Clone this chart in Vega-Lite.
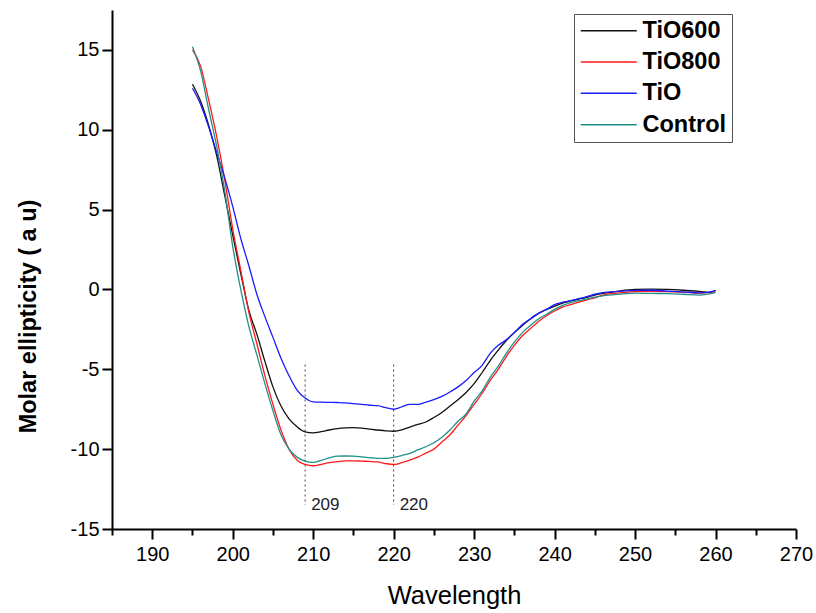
{
  "$schema": "https://vega.github.io/schema/vega-lite/v6.json",
  "width": 684,
  "height": 519,
  "autosize": "none",
  "padding": {"left": 112, "top": 10, "right": 20, "bottom": 84},
  "background": "white",
  "config": {
    "view": {"stroke": null},
    "font": "Liberation Sans",
    "axis": {"grid": false, "domainColor": "#000", "domainWidth": 2, "tickColor": "#000", "tickWidth": 2, "labelColor": "#000", "labelFont": "Liberation Sans", "labelFontSize": 20, "titleColor": "#000", "titleFont": "Liberation Sans"}
  },
  "datasets": {
    "curves": [
      {"w":195,"v":12.85,"s":"TiO600"},{"w":196,"v":11.8,"s":"TiO600"},{"w":197,"v":10.3,"s":"TiO600"},{"w":198,"v":8.4,"s":"TiO600"},{"w":199,"v":5.9,"s":"TiO600"},{"w":200,"v":3.4,"s":"TiO600"},{"w":201,"v":1.0,"s":"TiO600"},{"w":202,"v":-1.3,"s":"TiO600"},{"w":203,"v":-2.8,"s":"TiO600"},{"w":204,"v":-4.5,"s":"TiO600"},{"w":205,"v":-6.1,"s":"TiO600"},{"w":206,"v":-7.3,"s":"TiO600"},{"w":207,"v":-8.1,"s":"TiO600"},{"w":208,"v":-8.6,"s":"TiO600"},{"w":209,"v":-8.92,"s":"TiO600"},{"w":210,"v":-8.98,"s":"TiO600"},{"w":211,"v":-8.9,"s":"TiO600"},{"w":212,"v":-8.8,"s":"TiO600"},{"w":213,"v":-8.72,"s":"TiO600"},{"w":214,"v":-8.67,"s":"TiO600"},{"w":215,"v":-8.65,"s":"TiO600"},{"w":216,"v":-8.68,"s":"TiO600"},{"w":217,"v":-8.75,"s":"TiO600"},{"w":218,"v":-8.8,"s":"TiO600"},{"w":219,"v":-8.85,"s":"TiO600"},{"w":220,"v":-8.88,"s":"TiO600"},{"w":221,"v":-8.8,"s":"TiO600"},{"w":222,"v":-8.62,"s":"TiO600"},{"w":223,"v":-8.45,"s":"TiO600"},{"w":224,"v":-8.3,"s":"TiO600"},{"w":225,"v":-8.02,"s":"TiO600"},{"w":226,"v":-7.7,"s":"TiO600"},{"w":227,"v":-7.3,"s":"TiO600"},{"w":228,"v":-6.9,"s":"TiO600"},{"w":229,"v":-6.45,"s":"TiO600"},{"w":230,"v":-5.9,"s":"TiO600"},{"w":231,"v":-5.2,"s":"TiO600"},{"w":232,"v":-4.45,"s":"TiO600"},{"w":233,"v":-3.8,"s":"TiO600"},{"w":234,"v":-3.2,"s":"TiO600"},{"w":235,"v":-2.7,"s":"TiO600"},{"w":236,"v":-2.25,"s":"TiO600"},{"w":237,"v":-1.85,"s":"TiO600"},{"w":238,"v":-1.5,"s":"TiO600"},{"w":239,"v":-1.25,"s":"TiO600"},{"w":240,"v":-1.05,"s":"TiO600"},{"w":241,"v":-0.85,"s":"TiO600"},{"w":242,"v":-0.72,"s":"TiO600"},{"w":243,"v":-0.6,"s":"TiO600"},{"w":244,"v":-0.5,"s":"TiO600"},{"w":245,"v":-0.35,"s":"TiO600"},{"w":246,"v":-0.25,"s":"TiO600"},{"w":248,"v":-0.1,"s":"TiO600"},{"w":250,"v":0.0,"s":"TiO600"},{"w":252,"v":0.02,"s":"TiO600"},{"w":254,"v":0.0,"s":"TiO600"},{"w":256,"v":-0.05,"s":"TiO600"},{"w":258,"v":-0.12,"s":"TiO600"},{"w":259.5,"v":-0.18,"s":"TiO600"},{"w":260,"v":-0.05,"s":"TiO600"},

      {"w":195,"v":15.0,"s":"TiO800"},{"w":196,"v":14.0,"s":"TiO800"},{"w":197,"v":11.9,"s":"TiO800"},{"w":198,"v":9.6,"s":"TiO800"},{"w":199,"v":6.9,"s":"TiO800"},{"w":200,"v":3.8,"s":"TiO800"},{"w":201,"v":1.2,"s":"TiO800"},{"w":202,"v":-1.4,"s":"TiO800"},{"w":203,"v":-3.4,"s":"TiO800"},{"w":204,"v":-5.4,"s":"TiO800"},{"w":205,"v":-7.2,"s":"TiO800"},{"w":206,"v":-8.8,"s":"TiO800"},{"w":207,"v":-10.0,"s":"TiO800"},{"w":208,"v":-10.7,"s":"TiO800"},{"w":209,"v":-10.96,"s":"TiO800"},{"w":210,"v":-11.04,"s":"TiO800"},{"w":211,"v":-10.95,"s":"TiO800"},{"w":212,"v":-10.85,"s":"TiO800"},{"w":213,"v":-10.78,"s":"TiO800"},{"w":214,"v":-10.73,"s":"TiO800"},{"w":215,"v":-10.73,"s":"TiO800"},{"w":216,"v":-10.75,"s":"TiO800"},{"w":217,"v":-10.77,"s":"TiO800"},{"w":218,"v":-10.8,"s":"TiO800"},{"w":219,"v":-10.9,"s":"TiO800"},{"w":220,"v":-10.96,"s":"TiO800"},{"w":221,"v":-10.85,"s":"TiO800"},{"w":222,"v":-10.69,"s":"TiO800"},{"w":223,"v":-10.5,"s":"TiO800"},{"w":224,"v":-10.25,"s":"TiO800"},{"w":225,"v":-10.0,"s":"TiO800"},{"w":226,"v":-9.55,"s":"TiO800"},{"w":227,"v":-9.1,"s":"TiO800"},{"w":228,"v":-8.5,"s":"TiO800"},{"w":229,"v":-7.9,"s":"TiO800"},{"w":230,"v":-7.2,"s":"TiO800"},{"w":231,"v":-6.5,"s":"TiO800"},{"w":232,"v":-5.7,"s":"TiO800"},{"w":233,"v":-5.0,"s":"TiO800"},{"w":234,"v":-4.2,"s":"TiO800"},{"w":235,"v":-3.5,"s":"TiO800"},{"w":236,"v":-2.9,"s":"TiO800"},{"w":237,"v":-2.45,"s":"TiO800"},{"w":238,"v":-2.0,"s":"TiO800"},{"w":239,"v":-1.65,"s":"TiO800"},{"w":240,"v":-1.35,"s":"TiO800"},{"w":241,"v":-1.1,"s":"TiO800"},{"w":242,"v":-0.95,"s":"TiO800"},{"w":243,"v":-0.8,"s":"TiO800"},{"w":244,"v":-0.65,"s":"TiO800"},{"w":245,"v":-0.52,"s":"TiO800"},{"w":246,"v":-0.35,"s":"TiO800"},{"w":248,"v":-0.22,"s":"TiO800"},{"w":250,"v":-0.13,"s":"TiO800"},{"w":252,"v":-0.12,"s":"TiO800"},{"w":254,"v":-0.13,"s":"TiO800"},{"w":256,"v":-0.17,"s":"TiO800"},{"w":258,"v":-0.23,"s":"TiO800"},{"w":260,"v":-0.12,"s":"TiO800"},

      {"w":195,"v":12.6,"s":"TiO"},{"w":196,"v":11.6,"s":"TiO"},{"w":197,"v":10.2,"s":"TiO"},{"w":198,"v":8.6,"s":"TiO"},{"w":199,"v":7.0,"s":"TiO"},{"w":200,"v":5.2,"s":"TiO"},{"w":201,"v":3.2,"s":"TiO"},{"w":202,"v":1.5,"s":"TiO"},{"w":203,"v":-0.3,"s":"TiO"},{"w":204,"v":-1.7,"s":"TiO"},{"w":205,"v":-3.0,"s":"TiO"},{"w":206,"v":-4.3,"s":"TiO"},{"w":207,"v":-5.4,"s":"TiO"},{"w":208,"v":-6.3,"s":"TiO"},{"w":209,"v":-6.8,"s":"TiO"},{"w":210,"v":-7.04,"s":"TiO"},{"w":211,"v":-7.06,"s":"TiO"},{"w":212,"v":-7.07,"s":"TiO"},{"w":213,"v":-7.08,"s":"TiO"},{"w":214,"v":-7.1,"s":"TiO"},{"w":215,"v":-7.15,"s":"TiO"},{"w":216,"v":-7.2,"s":"TiO"},{"w":217,"v":-7.25,"s":"TiO"},{"w":218,"v":-7.28,"s":"TiO"},{"w":219,"v":-7.4,"s":"TiO"},{"w":220,"v":-7.5,"s":"TiO"},{"w":221,"v":-7.35,"s":"TiO"},{"w":222,"v":-7.2,"s":"TiO"},{"w":223,"v":-7.2,"s":"TiO"},{"w":224,"v":-7.05,"s":"TiO"},{"w":225,"v":-6.9,"s":"TiO"},{"w":226,"v":-6.7,"s":"TiO"},{"w":227,"v":-6.42,"s":"TiO"},{"w":228,"v":-6.1,"s":"TiO"},{"w":229,"v":-5.7,"s":"TiO"},{"w":230,"v":-5.2,"s":"TiO"},{"w":231,"v":-4.75,"s":"TiO"},{"w":232,"v":-4.0,"s":"TiO"},{"w":233,"v":-3.5,"s":"TiO"},{"w":234,"v":-3.15,"s":"TiO"},{"w":235,"v":-2.7,"s":"TiO"},{"w":236,"v":-2.2,"s":"TiO"},{"w":237,"v":-1.83,"s":"TiO"},{"w":238,"v":-1.5,"s":"TiO"},{"w":239,"v":-1.25,"s":"TiO"},{"w":240,"v":-0.95,"s":"TiO"},{"w":241,"v":-0.8,"s":"TiO"},{"w":242,"v":-0.7,"s":"TiO"},{"w":243,"v":-0.58,"s":"TiO"},{"w":244,"v":-0.45,"s":"TiO"},{"w":245,"v":-0.3,"s":"TiO"},{"w":246,"v":-0.2,"s":"TiO"},{"w":248,"v":-0.12,"s":"TiO"},{"w":250,"v":-0.06,"s":"TiO"},{"w":252,"v":-0.05,"s":"TiO"},{"w":254,"v":-0.1,"s":"TiO"},{"w":256,"v":-0.15,"s":"TiO"},{"w":258,"v":-0.21,"s":"TiO"},{"w":259,"v":-0.18,"s":"TiO"},{"w":260,"v":-0.05,"s":"TiO"},

      {"w":195,"v":15.2,"s":"Control"},{"w":196,"v":13.7,"s":"Control"},{"w":197,"v":11.3,"s":"Control"},{"w":198,"v":9.0,"s":"Control"},{"w":199,"v":6.2,"s":"Control"},{"w":200,"v":2.7,"s":"Control"},{"w":201,"v":0.0,"s":"Control"},{"w":202,"v":-2.3,"s":"Control"},{"w":203,"v":-4.1,"s":"Control"},{"w":204,"v":-5.9,"s":"Control"},{"w":205,"v":-7.6,"s":"Control"},{"w":206,"v":-9.1,"s":"Control"},{"w":207,"v":-10.0,"s":"Control"},{"w":208,"v":-10.5,"s":"Control"},{"w":209,"v":-10.75,"s":"Control"},{"w":210,"v":-10.83,"s":"Control"},{"w":211,"v":-10.7,"s":"Control"},{"w":212,"v":-10.55,"s":"Control"},{"w":213,"v":-10.44,"s":"Control"},{"w":214,"v":-10.43,"s":"Control"},{"w":215,"v":-10.44,"s":"Control"},{"w":216,"v":-10.48,"s":"Control"},{"w":217,"v":-10.53,"s":"Control"},{"w":218,"v":-10.58,"s":"Control"},{"w":219,"v":-10.58,"s":"Control"},{"w":220,"v":-10.52,"s":"Control"},{"w":221,"v":-10.4,"s":"Control"},{"w":222,"v":-10.27,"s":"Control"},{"w":223,"v":-10.05,"s":"Control"},{"w":224,"v":-9.85,"s":"Control"},{"w":225,"v":-9.6,"s":"Control"},{"w":226,"v":-9.25,"s":"Control"},{"w":227,"v":-8.8,"s":"Control"},{"w":228,"v":-8.25,"s":"Control"},{"w":229,"v":-7.8,"s":"Control"},{"w":230,"v":-7.0,"s":"Control"},{"w":231,"v":-6.35,"s":"Control"},{"w":232,"v":-5.5,"s":"Control"},{"w":233,"v":-4.8,"s":"Control"},{"w":234,"v":-4.0,"s":"Control"},{"w":235,"v":-3.3,"s":"Control"},{"w":236,"v":-2.7,"s":"Control"},{"w":237,"v":-2.25,"s":"Control"},{"w":238,"v":-1.85,"s":"Control"},{"w":239,"v":-1.55,"s":"Control"},{"w":240,"v":-1.25,"s":"Control"},{"w":241,"v":-1.0,"s":"Control"},{"w":242,"v":-0.82,"s":"Control"},{"w":243,"v":-0.7,"s":"Control"},{"w":244,"v":-0.6,"s":"Control"},{"w":245,"v":-0.48,"s":"Control"},{"w":246,"v":-0.4,"s":"Control"},{"w":248,"v":-0.3,"s":"Control"},{"w":250,"v":-0.23,"s":"Control"},{"w":252,"v":-0.25,"s":"Control"},{"w":254,"v":-0.26,"s":"Control"},{"w":256,"v":-0.3,"s":"Control"},{"w":258,"v":-0.35,"s":"Control"},{"w":260,"v":-0.2,"s":"Control"}
    ],
    "marks": [
      {"w": 209, "y1": -4.7, "y2": -13.5, "label": "209"},
      {"w": 220, "y1": -4.7, "y2": -13.5, "label": "220"}
    ]
  },
  "layer": [
    {
      "data": {"name": "marks"},
      "mark": {"type": "rule", "color": "#444", "strokeWidth": 1, "strokeDash": [2, 3]},
      "encoding": {
        "x": {"field": "w", "type": "quantitative"},
        "y": {"field": "y1", "type": "quantitative"},
        "y2": {"field": "y2"}
      }
    },
    {
      "data": {"name": "marks"},
      "mark": {"type": "text", "align": "left", "baseline": "middle", "dx": 6, "fontSize": 17, "color": "#222", "font": "Liberation Sans"},
      "encoding": {
        "x": {"field": "w", "type": "quantitative"},
        "y": {"field": "y2", "type": "quantitative"},
        "text": {"field": "label"}
      }
    },
    {
      "data": {"name": "curves"},
      "mark": {"type": "line", "strokeWidth": 1.3, "interpolate": "monotone"},
      "encoding": {
        "x": {
          "field": "w", "type": "quantitative",
          "scale": {"domain": [185, 270], "nice": false, "zero": false},
          "axis": {
            "title": "Wavelength", "titleFontSize": 25.5, "titleFontWeight": "normal",
            "titleY": 74, "titleBaseline": "alphabetic",
            "values": [185,190,195,200,205,210,215,220,225,230,235,240,245,250,255,260,265,270],
            "labelExpr": "datum.value % 10 === 0 ? datum.label : ''",
            "tickSize": {"condition": {"test": "datum.value % 10 === 0", "value": 10}, "value": 6},
            "labelPadding": 5, "labelFlush": false, "labelOverlap": false
          }
        },
        "y": {
          "field": "v", "type": "quantitative",
          "scale": {"domain": [-15, 17.5], "nice": false, "zero": false},
          "axis": {
            "title": "Molar ellipticity ( a u)", "titleFontSize": 23.5, "titleFontWeight": "bold",
            "titleX": -77, "titleY": 306, "titleBaseline": "alphabetic", "titleAngle": -90, "titleAlign": "center",
            "values": [-15,-12.5,-10,-7.5,-5,-2.5,0,2.5,5,7.5,10,12.5,15,17.5],
            "labelExpr": "datum.value % 5 === 0 ? replace(datum.label, '\u2212', '-') : ''",
            "tickSize": {"condition": {"test": "datum.value % 5 === 0", "value": 10}, "value": 6},
            "labelPadding": 3, "labelFlush": false, "labelOverlap": false
          }
        },
        "color": {
          "field": "s", "type": "nominal",
          "scale": {"domain": ["TiO600", "TiO800", "TiO", "Control"], "range": ["#111111", "#ff1a1a", "#1a1aff", "#1f8f87"]},
          "legend": {
            "title": null, "orient": "none", "legendX": 462, "legendY": 4,
            "symbolType": "M-1,0H4.6", "symbolSize": 400, "symbolStrokeWidth": 1.5,
            "labelFontSize": 23.5, "labelFontWeight": "bold", "labelColor": "#000", "labelFont": "Liberation Sans",
            "labelOffset": 40, "rowPadding": 6.3,
            "strokeColor": "#555", "padding": 5, "fillColor": "white"
          }
        }
      }
    }
  ]
}
